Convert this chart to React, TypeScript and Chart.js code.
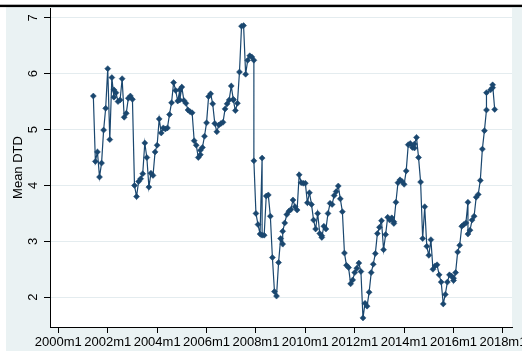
import React, { useEffect, useRef } from 'react';
import { Chart, registerables } from 'chart.js';

Chart.register(...registerables);

// Observation month, counted in months since 2000m1 (Stata monthly dates)
const obsMonth: number[] = [
  17, 18, 19, 20, 21, 22, 23, 24, 25, 26, 27, 27, 28, 29, 30, 31, 32, 33, 34, 35,
  36, 37, 38, 39, 40, 41, 42, 43, 44, 45, 46, 47, 48, 49, 50, 51, 52, 53, 54, 55,
  56, 57, 58, 59, 59, 60, 61, 62, 63, 64, 65, 66, 67, 68, 69, 69, 70, 71, 72, 73,
  74, 75, 76, 77, 78, 79, 80, 81, 82, 83, 84, 85, 85, 86, 87, 88, 89, 90, 91, 92,
  93, 94, 95, 95,
  96, 97, 98, 99, 99, 100, 101, 102, 103, 104, 105, 106, 107, 108, 109, 109, 110, 111, 112, 113,
  114, 115, 116, 117, 118, 119, 120, 121, 122, 123, 124, 125, 126, 127, 128, 128, 129, 130, 131, 132,
  133, 134, 135, 136, 137, 138, 139, 140, 141, 142, 143, 144, 145, 146, 147, 148, 149, 150, 151, 152,
  153, 154, 155, 156, 157, 158, 159, 160, 161, 162, 163, 163, 164, 165, 166, 167, 168, 169, 170, 171,
  172, 173, 173, 174, 175, 176, 177, 178, 179, 180, 181, 182, 183, 184, 185, 186, 187, 188, 189, 190,
  191, 192, 192, 193, 194, 195, 196, 197, 198, 199, 199, 200, 201, 202, 203, 204, 205, 206, 207, 208,
  208, 210, 211, 211, 212,
];

// Mean distance-to-default
const meanDTD: number[] = [
  5.6, 4.43, 4.6, 4.15, 4.4, 4.99, 5.38, 6.09, 4.82, 5.93, 5.58, 5.71, 5.66, 5.5, 5.53, 5.91, 5.22, 5.29, 5.56, 5.6,
  5.54, 4.0, 3.8, 4.07, 4.12, 4.21, 4.76, 4.5, 3.97, 4.22, 4.18, 4.6, 4.72, 5.19, 4.94, 5.03, 5.01, 5.03, 5.27, 5.48,
  5.84, 5.7, 5.51, 5.71, 5.53, 5.76, 5.52, 5.47, 5.35, 5.32, 5.3, 4.8, 4.72, 4.5, 4.55, 4.63, 4.68, 4.88, 5.12, 5.59,
  5.64, 5.46, 5.11, 4.96, 5.08, 5.11, 5.13, 5.37, 5.46, 5.53, 5.78, 5.54, 5.53, 5.34, 5.47, 6.03, 6.85, 6.86, 5.99, 6.24,
  6.32, 6.3, 6.24, 4.44,
  3.5, 3.3, 3.13, 4.49, 3.11, 3.11, 3.81, 3.83, 3.45, 2.71, 2.1, 2.02, 2.62, 3.05, 2.95, 3.18, 3.33, 3.48, 3.54, 3.57,
  3.74, 3.62, 3.56, 4.19, 4.05, 4.04, 4.04, 3.69, 3.87, 3.66, 3.38, 3.22, 3.5, 3.14, 3.1, 3.07, 3.27, 3.22, 3.5, 3.68,
  3.66, 3.82, 3.89, 3.99, 3.76, 3.53, 2.79, 2.57, 2.53, 2.24, 2.31, 2.44, 2.52, 2.61, 2.46, 1.63, 1.89, 1.84, 2.09, 2.44,
  2.59, 2.78, 3.14, 3.25, 3.37, 2.85, 3.12, 3.43, 3.38, 3.42, 3.35, 3.32, 3.7, 4.05, 4.1, 4.07, 4.02, 4.26, 4.73, 4.75,
  4.68, 4.67, 4.74, 4.86, 4.5, 4.06, 3.05, 3.62, 2.91, 2.75, 3.03, 2.5, 2.56, 2.58, 2.4, 2.27, 1.88, 2.05, 2.27, 2.4,
  2.38, 2.34, 2.3, 2.44, 2.81, 2.93, 3.27, 3.3, 3.33, 3.7, 3.13, 3.2, 3.38, 3.45, 3.79, 3.84, 4.09, 4.65, 4.98, 5.35,
  5.66, 5.71, 5.75, 5.8, 5.36,
];

const xTickYears: number[] = [2000, 2002, 2004, 2006, 2008, 2010, 2012, 2014, 2016, 2018];
const yTickValues: number[] = [2, 3, 4, 5, 6, 7];
const yAxisTitle = 'Mean DTD';

const NAVY = '#1a476f';
const OUTER_BG = '#eaf2f3';
const GRID = '#e4ecef';
const FONT = '"Liberation Sans", Arial, sans-serif';

export default function App() {
  const ref = useRef<HTMLCanvasElement>(null);

  useEffect(() => {
    const canvas = ref.current;
    if (!canvas) return;

    const stataPlugin = {
      id: 'stataLook',
      beforeDraw(chart: any) {
        const { ctx, chartArea: a, width, height } = chart;
        ctx.save();
        ctx.fillStyle = '#ffffff';
        ctx.fillRect(0, 0, width, height);
        ctx.fillStyle = OUTER_BG;
        ctx.fillRect(6, 7, width - 6, height - 7);
        ctx.fillStyle = '#ffffff';
        ctx.fillRect(a.left, a.top, a.right - a.left, a.bottom - a.top);
        ctx.fillStyle = '#000000';
        ctx.fillRect(0, 4.7, width, 2.4);
        ctx.restore();
      },
      afterDraw(chart: any) {
        const { ctx } = chart;
        const ys = chart.scales.y;
        ctx.save();
        ctx.fillStyle = '#000000';
        ctx.font = `13px ${FONT}`;
        ctx.textAlign = 'center';
        ctx.textBaseline = 'middle';
        for (const v of yTickValues) {
          const py = ys.getPixelForValue(v);
          ctx.save();
          ctx.translate(33, py);
          ctx.rotate(-Math.PI / 2);
          ctx.fillText(String(v), 0, 0);
          ctx.restore();
        }
        ctx.restore();
      },
    };

    const chart = new Chart(canvas, {
      type: 'line',
      data: {
        datasets: [
          {
            data: obsMonth.map((m, i) => ({ x: m, y: meanDTD[i] })),
            borderColor: NAVY,
            borderWidth: 1.2,
            backgroundColor: NAVY,
            pointStyle: 'rectRot',
            pointRadius: 3,
            pointBackgroundColor: NAVY,
            pointBorderColor: NAVY,
            pointBorderWidth: 0.5,
            tension: 0,
            fill: false,
          },
        ],
      },
      options: {
        animation: false,
        responsive: false,
        devicePixelRatio: 1,
        events: [],
        layout: { padding: { left: 0, top: 8, right: 10, bottom: 0 } },
        plugins: { legend: { display: false }, tooltip: { enabled: false } },
        scales: {
          x: {
            type: 'linear',
            min: -4.05,
            max: 220.4,
            border: { display: true, color: '#000000', width: 1 },
            grid: {
              display: true,
              drawOnChartArea: false,
              drawTicks: true,
              tickLength: 6,
              tickColor: '#000000',
              tickWidth: 1,
            },
            ticks: {
              autoSkip: false,
              maxRotation: 0,
              minRotation: 0,
              padding: 2,
              color: '#000000',
              font: { family: FONT, size: 13 },
              callback: (v: any) => `${2000 + Number(v) / 12}m1`,
            },
            afterBuildTicks: (s: any) => {
              s.ticks = xTickYears.map((yr) => ({ value: (yr - 2000) * 12 }));
            },
            afterFit: (s: any) => {
              s.height = 24;
              s.paddingLeft = 0;
              s.paddingRight = 0;
            },
          },
          y: {
            type: 'linear',
            min: 1.467,
            max: 7.175,
            border: { display: true, color: '#000000', width: 1 },
            grid: {
              display: true,
              color: GRID,
              lineWidth: 1,
              drawTicks: true,
              tickLength: 6,
              tickColor: '#000000',
              tickWidth: 1,
            },
            ticks: { display: false },
            afterBuildTicks: (s: any) => {
              s.ticks = yTickValues.map((v) => ({ value: v }));
            },
            afterFit: (s: any) => {
              s.width = 50;
              s.paddingTop = 0;
              s.paddingBottom = 0;
            },
            title: {
              display: true,
              text: yAxisTitle,
              color: '#000000',
              font: { family: FONT, size: 13 },
              padding: { top: 11, bottom: 0 },
            },
          },
        },
      },
      plugins: [stataPlugin],
    });

    return () => chart.destroy();
  }, []);

  return (
    <div style={{ position: 'absolute', left: 0, top: 0, width: 522, height: 351 }}>
      <canvas ref={ref} width={522} height={351} style={{ display: 'block', width: 522, height: 351 }} />
    </div>
  );
}
